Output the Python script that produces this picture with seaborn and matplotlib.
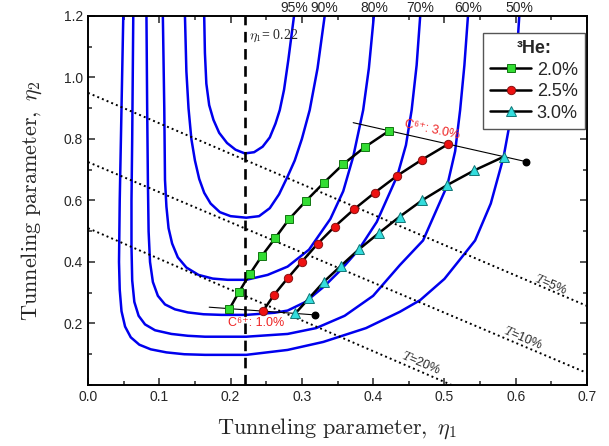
import numpy as np
import pandas as pd
import seaborn as sns
import matplotlib.pyplot as plt
from matplotlib.ticker import MultipleLocator

sns.set_style("ticks")
plt.rcParams["font.family"] = ["Liberation Sans", "DejaVu Sans"]
plt.rcParams["mathtext.fontset"] = "cm"

# blue contour curves (eta1, eta2)
c95_x = [0.163, 0.164, 0.166, 0.170, 0.176, 0.184, 0.195, 0.207, 0.220, 0.233, 0.245, 0.255, 0.263, 0.269, 0.275, 0.281, 0.289]
c95_y = [1.20, 1.08, 0.98, 0.91, 0.862, 0.82, 0.787, 0.765, 0.753, 0.757, 0.775, 0.805, 0.85, 0.894, 0.96, 1.057, 1.20]
c90_x = [0.136, 0.138, 0.141, 0.145, 0.150, 0.156, 0.163, 0.172, 0.185, 0.200, 0.222, 0.240, 0.255, 0.268, 0.280, 0.290, 0.300, 0.311, 0.322, 0.332]
c90_y = [1.20, 1.02, 0.90, 0.80, 0.73, 0.67, 0.625, 0.59, 0.562, 0.549, 0.544, 0.549, 0.575, 0.62, 0.678, 0.73, 0.80, 0.894, 1.03, 1.20]
c80_x = [0.105, 0.107, 0.108, 0.110, 0.113, 0.118, 0.126, 0.138, 0.155, 0.175, 0.196, 0.222, 0.252, 0.280, 0.310, 0.340, 0.358, 0.372, 0.386, 0.394, 0.401]
c80_y = [1.20, 0.90, 0.667, 0.58, 0.51, 0.46, 0.415, 0.382, 0.358, 0.346, 0.342, 0.342, 0.358, 0.385, 0.44, 0.54, 0.63, 0.742, 0.894, 1.03, 1.20]
c70_x = [0.082, 0.083, 0.084, 0.085, 0.087, 0.091, 0.098, 0.108, 0.122, 0.140, 0.162, 0.187, 0.222, 0.262, 0.280, 0.305, 0.331, 0.355, 0.380, 0.405, 0.434, 0.446, 0.454, 0.461, 0.466]
c70_y = [1.20, 0.90, 0.667, 0.50, 0.40, 0.335, 0.29, 0.262, 0.246, 0.236, 0.230, 0.228, 0.228, 0.235, 0.242, 0.27, 0.32, 0.375, 0.441, 0.53, 0.681, 0.78, 0.894, 1.04, 1.20]
c60_x = [0.0635, 0.062, 0.061, 0.061, 0.062, 0.065, 0.071, 0.080, 0.094, 0.117, 0.140, 0.164, 0.222, 0.280, 0.320, 0.360, 0.400, 0.4375, 0.470, 0.504, 0.515, 0.522, 0.528, 0.533]
c60_y = [1.20, 0.80, 0.60, 0.45, 0.34, 0.27, 0.225, 0.197, 0.178, 0.166, 0.160, 0.157, 0.157, 0.166, 0.185, 0.225, 0.29, 0.39, 0.47, 0.649, 0.76, 0.894, 1.04, 1.20]
c50_x = [0.0495, 0.047, 0.0445, 0.0435, 0.0445, 0.047, 0.052, 0.060, 0.072, 0.088, 0.110, 0.135, 0.164, 0.222, 0.280, 0.330, 0.390, 0.4375, 0.466, 0.500, 0.529, 0.543, 0.565, 0.583, 0.595, 0.600, 0.605]
c50_y = [1.20, 0.90, 0.60, 0.40, 0.31, 0.24, 0.19, 0.155, 0.131, 0.116, 0.106, 0.100, 0.098, 0.098, 0.114, 0.14, 0.185, 0.238, 0.276, 0.345, 0.429, 0.47, 0.59, 0.742, 0.894, 1.02, 1.20]
contour_labels = ["95%", "90%", "80%", "70%", "60%", "50%"]

# 3He concentration series
he20_x = [0.198, 0.212, 0.227, 0.244, 0.263, 0.282, 0.306, 0.331, 0.358, 0.388, 0.422]
he20_y = [0.246, 0.303, 0.361, 0.420, 0.479, 0.539, 0.599, 0.658, 0.718, 0.773, 0.826]
he25_x = [0.245, 0.261, 0.280, 0.300, 0.322, 0.346, 0.373, 0.402, 0.434, 0.468, 0.505]
he25_y = [0.239, 0.293, 0.347, 0.401, 0.459, 0.515, 0.571, 0.625, 0.681, 0.732, 0.783]
he30_x = [0.291, 0.310, 0.331, 0.355, 0.380, 0.408, 0.437, 0.469, 0.503, 0.542, 0.583]
he30_y = [0.233, 0.282, 0.336, 0.388, 0.441, 0.494, 0.547, 0.601, 0.649, 0.698, 0.742]

# C6+ lines and end dots
c1_x = [0.170, 0.318]
c1_y = [0.253, 0.228]
c3_x = [0.372, 0.615]
c3_y = [0.853, 0.726]
dots_x = [0.318, 0.615]
dots_y = [0.228, 0.726]

# transmission lines T
t5_x, t5_y = [0.0, 0.7], [0.95, 0.257]
t10_x, t10_y = [0.0, 0.7], [0.725, 0.039]
t20_x, t20_y = [0.0, 0.51], [0.51, 0.0]

eta_cut = 0.22

fig = plt.figure(figsize=(6.09, 4.46), dpi=100)
ax = fig.add_axes([0.1445, 0.1368, 0.8194, 0.8274])

contours = [(c95_x, c95_y), (c90_x, c90_y), (c80_x, c80_y),
            (c70_x, c70_y), (c60_x, c60_y), (c50_x, c50_y)]
for (cx, cy), lab in zip(contours, contour_labels):
    sns.lineplot(x=cx, y=cy, sort=False, estimator=None, color="#0000ee", lw=1.8, ax=ax)
    ax.text(cx[-1], 1.203, lab, ha="center", va="bottom", fontsize=10, clip_on=False)

for tx, ty in [(t5_x, t5_y), (t10_x, t10_y), (t20_x, t20_y)]:
    sns.lineplot(x=tx, y=ty, sort=False, estimator=None, color="black", lw=1.4, ls=(0, (1, 1.6)), ax=ax)

ax.axvline(eta_cut, color="black", lw=1.9, ls=(0, (4, 2.5)))

sns.lineplot(x=c1_x, y=c1_y, sort=False, estimator=None, color="black", lw=0.8, ax=ax)
sns.lineplot(x=c3_x, y=c3_y, sort=False, estimator=None, color="black", lw=0.8, ax=ax)
ax.scatter(dots_x, dots_y, s=22, color="black", zorder=5)

sns.lineplot(x=he20_x, y=he20_y, sort=False, estimator=None, color="black", lw=1.8,
             marker="s", markersize=5.5, markerfacecolor="#33dd33", markeredgecolor="#117711",
             markeredgewidth=0.7, label="2.0%", ax=ax, zorder=6)
sns.lineplot(x=he25_x, y=he25_y, sort=False, estimator=None, color="black", lw=1.8,
             marker="o", markersize=6, markerfacecolor="#ee1111", markeredgecolor="#881111",
             markeredgewidth=0.7, label="2.5%", ax=ax, zorder=6)
sns.lineplot(x=he30_x, y=he30_y, sort=False, estimator=None, color="black", lw=1.8,
             marker="^", markersize=6.5, markerfacecolor="#33dddd", markeredgecolor="#117777",
             markeredgewidth=0.7, label="3.0%", ax=ax, zorder=6)

# annotations
ax.text(0.226, 1.135, r"$\eta_1$= 0.22", fontsize=10, family="Liberation Serif", va="center")
ax.text(0.236, 0.203, "C⁶⁺: 1.0%", color="#ee2222", fontsize=9, ha="center", va="center",
        family=["Liberation Sans", "DejaVu Sans"])
ax.text(0.483, 0.83, "C⁶⁺: 3.0%", color="#ee2222", fontsize=9, ha="center", va="center",
        rotation=-12, family=["Liberation Sans", "DejaVu Sans"])
ax.text(0.650, 0.325, "$T$=5%", fontsize=9, ha="center", va="center", rotation=-23)
ax.text(0.610, 0.153, "$T$=10%", fontsize=9, ha="center", va="center", rotation=-23)
ax.text(0.468, 0.073, "$T$=20%", fontsize=9, ha="center", va="center", rotation=-23)

ax.set_xlim(0, 0.7)
ax.set_ylim(0, 1.2)
ax.xaxis.set_major_locator(MultipleLocator(0.1))
ax.xaxis.set_minor_locator(MultipleLocator(0.05))
ax.set_yticks([0.2, 0.4, 0.6, 0.8, 1.0, 1.2])
ax.yaxis.set_minor_locator(MultipleLocator(0.1))
ax.set_xticklabels([f"{v:.1f}" for v in ax.get_xticks()])
ax.set_yticklabels([f"{v:.1f}" for v in ax.get_yticks()])
ax.tick_params(which="both", direction="in", top=True, right=True, labelsize=10, width=1.1)
ax.tick_params(which="major", length=5)
ax.tick_params(which="minor", length=3)
for sp in ax.spines.values():
    sp.set_linewidth(1.4)
    sp.set_color("black")

ax.set_xlabel(r"$\mathrm{Tunneling\ parameter,}\ \eta_1$", fontsize=16, labelpad=9)
ax.set_ylabel(r"$\mathrm{Tunneling\ parameter,}\ \eta_2$", fontsize=16, labelpad=14)

leg = ax.legend(title="³He:", loc="upper right", bbox_to_anchor=(0.996, 0.954), borderaxespad=0,
                fontsize=13, fancybox=False, edgecolor="#555555", framealpha=1,
                handlelength=2.3, handletextpad=0.3, labelspacing=0.25, borderpad=0.4)
leg.get_title().set_fontweight("bold")
leg.get_title().set_fontsize(13)
leg.get_frame().set_linewidth(1.0)

fig.savefig("out.png", dpi=100)
